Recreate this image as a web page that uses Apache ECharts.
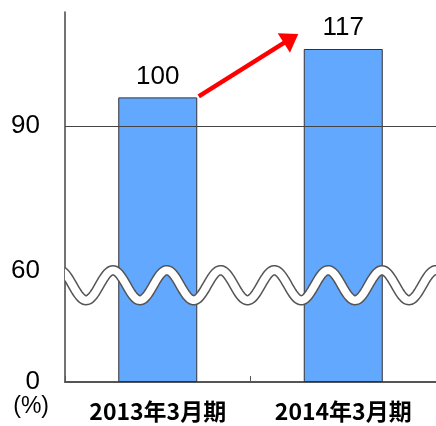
<!DOCTYPE html>
<html><head><meta charset="utf-8">
<script src="https://cdn.jsdelivr.net/npm/echarts@6/dist/echarts.min.js"></script>
<style>html,body{margin:0;padding:0;background:#fff}#c{width:436px;height:426px}</style>
</head><body><div id="c"></div>
<script>
const categories = ['2013年3月期', '2014年3月期'];
const barValues = [100, 117];
const tickPositions = [0, 39, 90];
const tickLabels = ['0', '60', '90'];
const gridValue = 90;
const waveValue = 34;

const chart = echarts.init(document.getElementById('c'));
const numFont = '"Liberation Sans", Arial, sans-serif';

chart.setOption({
  animation: false,
  grid: { left: 65, right: 0, top: 12, bottom: 44 },
  xAxis: {
    type: 'category',
    data: categories,
    axisLine: { lineStyle: { color: '#555', width: 2 } },
    axisTick: { show: true, inside: true, length: 6, lineStyle: { color: '#555' } },
    axisLabel: { margin: 18, fontSize: 23, fontWeight: 'bold', color: '#000', fontFamily: '"Noto Sans CJK JP", sans-serif' }
  },
  yAxis: {
    type: 'value', min: 0, max: 130,
    name: '(%)', nameLocation: 'start', nameGap: 8,
    nameTextStyle: { fontSize: 23, color: '#000', align: 'right', padding: [0, 16, 0, 0], fontFamily: numFont },
    axisLine: { show: true, lineStyle: { color: '#444', width: 1.5 } },
    axisTick: { show: true, inside: true, length: 7, customValues: [gridValue], lineStyle: { color: '#333' } },
    splitLine: { show: false },
    axisLabel: {
      customValues: tickPositions,
      formatter: v => tickLabels[tickPositions.indexOf(v)],
      fontSize: 26, color: '#000', margin: 25, fontFamily: numFont
    }
  },
  series: [
    {
      type: 'line', data: [], z: 1,
      markLine: { silent: true, symbol: 'none', label: { show: false },
        lineStyle: { color: '#444', width: 1, type: 'solid' },
        data: [{ yAxis: gridValue }] }
    },
    {
      type: 'bar', data: barValues, barWidth: 79, z: 2,
      itemStyle: { color: '#62A8FF', borderColor: '#333', borderWidth: 1 },
      label: { show: true, position: 'top', distance: 8, fontSize: 26, color: '#000', fontFamily: numFont }
    },
    {
      type: 'custom', z: 5, silent: true,
      data: [[0, waveValue]],
      renderItem: function (params, api) {
        const cs = params.coordSys;
        const yc = api.coord([0, api.value(1)])[1];
        const A = 15, P = 53.8, phase = 48;
        const pts = [];
        for (let px = cs.x - 4; px <= cs.x + cs.width + 4; px += 1) {
          pts.push([px, yc - A * Math.cos(2 * Math.PI * (px - cs.x - phase) / P)]);
        }
        const clip = { type: 'rect', shape: { x: cs.x, y: cs.y, width: cs.width, height: cs.height } };
        return { type: 'group', children: [
          { type: 'polyline', shape: { points: pts }, clipPath: clip, style: { stroke: '#555', lineWidth: 10.5, fill: null } },
          { type: 'polyline', shape: { points: pts }, clipPath: clip, style: { stroke: '#fff', lineWidth: 7.5, fill: null } }
        ] };
      }
    },
    {
      type: 'custom', z: 6, silent: true,
      data: [[0, barValues[0], 1, barValues[1]]],
      renderItem: function (params, api) {
        const p0 = api.coord([api.value(0), api.value(1)]);
        const p1 = api.coord([api.value(2), api.value(3)]);
        const s = [p0[0] + 41, p0[1] - 1];
        const t = [p1[0] - 45, p1[1] - 15];
        const dx = t[0] - s[0], dy = t[1] - s[1];
        const len = Math.sqrt(dx * dx + dy * dy);
        const ux = dx / len, uy = dy / len;
        const L = 17, W = 11.5;
        const b = [t[0] - ux * L, t[1] - uy * L];
        return { type: 'group', children: [
          { type: 'line', shape: { x1: s[0], y1: s[1], x2: b[0] + ux * 2, y2: b[1] + uy * 2 }, style: { stroke: '#FF0000', lineWidth: 4.5 } },
          { type: 'polygon', shape: { points: [t, [b[0] - uy * W, b[1] + ux * W], [b[0] + uy * W, b[1] - ux * W]] }, style: { fill: '#FF0000' } }
        ] };
      }
    }
  ]
});
</script></body></html>
